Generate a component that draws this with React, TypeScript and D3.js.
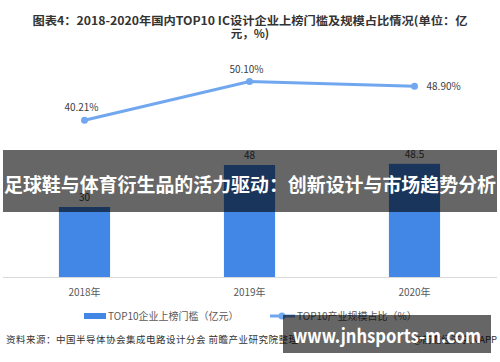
import { useEffect, useRef } from "react"
import * as d3 from "d3"

const years = ["2018年", "2019年", "2020年"]
const threshold = [30, 48, 48.5]
const share = [40.21, 50.1, 48.9]
const shareLabels = ["40.21%", "50.10%", "48.90%"]

export default function App() {
  const svgRef = useRef<SVGSVGElement>(null)

  useEffect(() => {
    if (!svgRef.current) return
    const svg = d3.select(svgRef.current)
    svg.selectAll("*").remove()

    const W = 500
    const H = 362
    const base = 277
    const font = "'Noto Sans CJK SC', 'Noto Sans', sans-serif"

    svg.append("rect").attr("width", W).attr("height", H).attr("fill", "#fff")

    // title
    const title = svg
      .append("text")
      .attr("text-anchor", "middle")
      .attr("font-family", font)
      .attr("font-weight", "bold")
      .attr("font-size", 11.5)
      .attr("fill", "#333")
    title.append("tspan").attr("x", 250).attr("y", 25)
      .attr("textLength", 435).attr("lengthAdjust", "spacingAndGlyphs")
      .text("图表4：2018-2020年国内TOP10 IC设计企业上榜门槛及规模占比情况(单位：亿")
    title.append("tspan").attr("x", 250).attr("y", 38).text("元，%)")

    const x = d3.scaleBand().domain(years).range([2, 497]).paddingInner(0.69).paddingOuter(0.345)
    const yBar = d3.scaleLinear().domain([0, 60]).range([base, 137])
    const yLine = d3.scaleLinear().domain([0, 60]).range([base, 43])
    const cx = (i: number) => (x(years[i]) ?? 0) + x.bandwidth() / 2

    // axis
    svg.append("line").attr("x1", 3).attr("x2", 497).attr("y1", base + 0.5).attr("y2", base + 0.5)
      .attr("stroke", "#d9d9d9")

    svg.selectAll(".bar").data(threshold).enter().append("rect")
      .attr("x", (_, i) => x(years[i]) ?? 0)
      .attr("width", x.bandwidth())
      .attr("y", (d) => yBar(d))
      .attr("height", (d) => base - yBar(d))
      .attr("fill", "#4286e6")

    svg.selectAll(".blab").data(threshold).enter().append("text")
      .attr("x", (_, i) => cx(i))
      .attr("y", (d) => yBar(d) - 6)
      .attr("text-anchor", "middle")
      .attr("font-family", font)
      .attr("font-size", 10)
      .attr("fill", "#404040")
      .text((d) => d)

    svg.selectAll(".xlab").data(years).enter().append("text")
      .attr("x", (_, i) => cx(i))
      .attr("y", 296)
      .attr("text-anchor", "middle")
      .attr("font-family", font)
      .attr("font-size", 10)
      .attr("fill", "#595959")
      .text((d) => d)

    const line = d3.line<number>().x((_, i) => cx(i)).y((d) => yLine(d))
    svg.append("path").datum(share).attr("d", line).attr("fill", "none")
      .attr("stroke", "#70a7ee").attr("stroke-width", 3)
    svg.selectAll(".pt").data(share).enter().append("circle")
      .attr("cx", (_, i) => cx(i)).attr("cy", (d) => yLine(d)).attr("r", 3.5)
      .attr("fill", "#70a7ee")

    svg.selectAll(".llab").data(share).enter().append("text")
      .attr("x", (_, i) => (i === 2 ? cx(i) + 12 : cx(i) - 3))
      .attr("y", (d, i) => (i === 2 ? yLine(d) + 4 : yLine(d) - 9))
      .attr("text-anchor", (_, i) => (i === 2 ? "start" : "middle"))
      .attr("font-family", font)
      .attr("font-size", 10)
      .attr("fill", "#404040")
      .text((_, i) => shareLabels[i])

    // legend
    const lg = svg.append("g").attr("font-family", font).attr("font-size", 10).attr("fill", "#595959")
    lg.append("rect").attr("x", 84).attr("y", 313).attr("width", 22).attr("height", 6).attr("fill", "#4286e6")
    lg.append("text").attr("x", 108).attr("y", 320).text("TOP10企业上榜门槛（亿元）")
    lg.append("line").attr("x1", 270).attr("x2", 295).attr("y1", 316).attr("y2", 316)
      .attr("stroke", "#70a7ee").attr("stroke-width", 3)
    lg.append("circle").attr("cx", 282).attr("cy", 316).attr("r", 3.5).attr("fill", "#70a7ee")
    lg.append("text").attr("x", 297).attr("y", 320).text("TOP10产业规模占比（%）")

    // source
    svg.append("text").attr("x", 6).attr("y", 343).attr("font-family", font).attr("font-size", 9.5)
      .attr("fill", "#333").attr("textLength", 292).attr("lengthAdjust", "spacing")
      .text("资料来源：中国半导体协会集成电路设计分会 前瞻产业研究院整理")
    svg.append("text").attr("x", 497).attr("y", 343).attr("text-anchor", "end").attr("font-family", font)
      .attr("font-size", 9.5).attr("fill", "#333").text("@前瞻经济学人APP")

    // overlays
    svg.append("rect").attr("x", 3).attr("y", 150).attr("width", 494).attr("height", 62)
      .attr("fill", "#000").attr("opacity", 0.6)
    svg.append("text").attr("x", 250).attr("y", 192).attr("text-anchor", "middle")
      .attr("font-family", font).attr("font-weight", "bold").attr("font-size", 19).attr("fill", "#fff")
      .attr("textLength", 492).attr("lengthAdjust", "spacingAndGlyphs")
      .text("足球鞋与体育衍生品的活力驱动：创新设计与市场趋势分析")

    svg.append("rect").attr("x", 283).attr("y", 315).attr("width", 208).attr("height", 38)
      .attr("fill", "#000").attr("opacity", 0.6)
    svg.append("text").attr("x", 387).attr("y", 343).attr("text-anchor", "middle")
      .attr("font-family", font).attr("font-weight", "bold").attr("font-size", 19).attr("fill", "#fff")
      .attr("textLength", 188).attr("lengthAdjust", "spacingAndGlyphs")
      .text("www.jnhsports-m.com")
  }, [])

  return (
    <svg ref={svgRef} width={500} height={362} style={{ position: "absolute", left: 0, top: 0 }} />
  )
}
